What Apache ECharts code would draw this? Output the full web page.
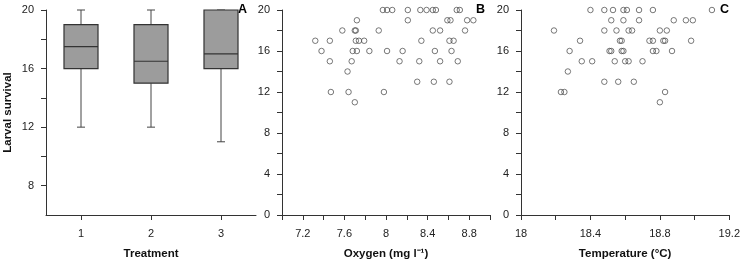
<!DOCTYPE html>
<html>
<head>
<meta charset="utf-8">
<script src="https://cdn.jsdelivr.net/npm/echarts@6/dist/echarts.min.js"></script>
<style>
  html, body { margin: 0; padding: 0; background: #fff; }
  #chart { width: 743px; height: 265px; }
</style>
</head>
<body>
<div id="chart"></div>
<script>
// panel A: box plots per treatment
const treatments = ['1', '2', '3'];
const boxMin = [12, 12, 11];
const boxQ1 = [16, 15, 16];
const boxMedian = [17.5, 16.5, 17];
const boxQ3 = [19, 19, 20];
const boxMax = [20, 20, 20];

// panel B: survival vs oxygen
const oxygen = [
  7.97, 8.01, 8.06, 8.21, 8.33, 8.39, 8.45, 8.48, 8.68, 8.71,
  7.72, 8.21, 8.59, 8.62, 8.78, 8.84,
  7.58, 7.70, 7.71, 7.93, 8.45, 8.52, 8.76,
  7.32, 7.46, 7.71, 7.74, 7.79, 8.34, 8.61, 8.65,
  7.38, 7.68, 7.72, 7.84, 8.01, 8.16, 8.47, 8.63,
  7.46, 7.67, 8.13, 8.32, 8.52, 8.69,
  7.63,
  8.30, 8.46, 8.61,
  7.47, 7.64, 7.98,
  7.70
];
const oxygenSurvival = [
  20, 20, 20, 20, 20, 20, 20, 20, 20, 20,
  19, 19, 19, 19, 19, 19,
  18, 18, 18, 18, 18, 18, 18,
  17, 17, 17, 17, 17, 17, 17, 17,
  16, 16, 16, 16, 16, 16, 16, 16,
  15, 15, 15, 15, 15, 15,
  14,
  13, 13, 13,
  12, 12, 12,
  11
];

// panel C: survival vs temperature
const temperature = [
  18.40, 18.48, 18.53, 18.59, 18.61, 18.68, 18.76, 19.10,
  18.52, 18.59, 18.68, 18.88, 18.95, 18.99,
  18.19, 18.48, 18.55, 18.62, 18.64, 18.80, 18.84,
  18.34, 18.57, 18.58, 18.74, 18.76, 18.82, 18.83, 18.98,
  18.28, 18.51, 18.52, 18.58, 18.59, 18.76, 18.78, 18.87,
  18.35, 18.41, 18.54, 18.60, 18.62, 18.70,
  18.27,
  18.48, 18.56, 18.65,
  18.23, 18.25, 18.83,
  18.80
];
const temperatureSurvival = [
  20, 20, 20, 20, 20, 20, 20, 20,
  19, 19, 19, 19, 19, 19,
  18, 18, 18, 18, 18, 18, 18,
  17, 17, 17, 17, 17, 17, 17, 17,
  16, 16, 16, 16, 16, 16, 16, 16,
  15, 15, 15, 15, 15, 15,
  14,
  13, 13, 13,
  12, 12, 12,
  11
];

// tick positions and labels
const survivalTicksA = [8, 10, 12, 14, 16, 18, 20];
const survivalLabelsA = [8, 12, 16, 20];
const survivalTicks = [0, 2, 4, 6, 8, 10, 12, 14, 16, 18, 20];
const survivalLabels = [0, 4, 8, 12, 16, 20];
const oxygenTicks = [7.0, 7.2, 7.4, 7.6, 7.8, 8.0, 8.2, 8.4, 8.6, 8.8, 9.0];
const oxygenLabels = [7.2, 7.6, 8.0, 8.4, 8.8];
const temperatureTicks = [18.0, 18.2, 18.4, 18.6, 18.8, 19.0, 19.2];
const temperatureLabels = [18.0, 18.4, 18.8, 19.2];

const FONT = '"Liberation Sans", Arial, sans-serif';
const AXIS_COLOR = '#333';

const axisLine = { show: true, onZero: false, lineStyle: { color: AXIS_COLOR, width: 1 } };
const labelStyle = { color: '#222', fontSize: 11, fontFamily: FONT };
const nameStyle = { color: '#111', fontSize: 11.5, fontWeight: 'bold', fontFamily: FONT };

function valueAxis(grid, min, max, ticks, labels, margin, extra) {
  return Object.assign({
    type: 'value',
    gridIndex: grid,
    min: min,
    max: max,
    axisLine: axisLine,
    axisTick: { show: true, length: 5, customValues: ticks, lineStyle: { color: AXIS_COLOR } },
    axisLabel: Object.assign({ customValues: labels, margin: margin }, labelStyle),
    splitLine: { show: false }
  }, extra || {});
}

const boxData = treatments.map((t, i) => [i, boxMin[i], boxQ1[i], boxMedian[i], boxQ3[i], boxMax[i]]);

function renderBox(params, api) {
  const i = api.value(0);
  const pMin = api.coord([i, api.value(1)]);
  const pQ1 = api.coord([i, api.value(2)]);
  const pMed = api.coord([i, api.value(3)]);
  const pQ3 = api.coord([i, api.value(4)]);
  const pMax = api.coord([i, api.value(5)]);
  const half = api.size([1, 0])[0] * 0.243;
  const cap = 4;
  const x = pMed[0];
  const line = { stroke: '#444', lineWidth: 1 };
  return {
    type: 'group',
    children: [
      { type: 'line', shape: { x1: x, y1: pMin[1], x2: x, y2: pQ1[1] }, style: line },
      { type: 'line', shape: { x1: x, y1: pQ3[1], x2: x, y2: pMax[1] }, style: line },
      { type: 'line', shape: { x1: x - cap, y1: pMin[1], x2: x + cap, y2: pMin[1] }, style: line },
      { type: 'line', shape: { x1: x - cap, y1: pMax[1], x2: x + cap, y2: pMax[1] }, style: line },
      {
        type: 'rect',
        shape: { x: x - half, y: pQ3[1], width: half * 2, height: pQ1[1] - pQ3[1] },
        style: { fill: '#9c9c9c', stroke: '#333', lineWidth: 1.2 }
      },
      { type: 'line', shape: { x1: x - half, y1: pMed[1], x2: x + half, y2: pMed[1] }, style: { stroke: '#333', lineWidth: 1.2 } }
    ]
  };
}

const scatterStyle = {
  color: 'rgba(0,0,0,0)',
  borderColor: '#444',
  borderWidth: 0.9
};

const chart = echarts.init(document.getElementById('chart'), null, { renderer: 'canvas' });

chart.setOption({
  animation: false,
  backgroundColor: '#fff',
  textStyle: { fontFamily: FONT },
  grid: [
    { left: 46, top: 10, width: 210, height: 209 },
    { left: 282, top: 10, width: 208, height: 209 },
    { left: 521, top: 10, width: 209, height: 209 }
  ],
  xAxis: [
    {
      type: 'category',
      gridIndex: 0,
      data: treatments,
      boundaryGap: true,
      axisLine: axisLine,
      axisTick: { show: true, length: 5, alignWithLabel: true, lineStyle: { color: AXIS_COLOR } },
      axisLabel: Object.assign({ margin: 13 }, labelStyle),
      name: 'Treatment',
      nameLocation: 'middle',
      nameGap: 33,
      nameTextStyle: nameStyle
    },
    valueAxis(1, 7.0, 9.0, oxygenTicks, oxygenLabels, 13, {
      name: 'Oxygen (mg l\u207B\u00B9)',
      nameLocation: 'middle',
      nameGap: 33,
      nameTextStyle: nameStyle
    }),
    valueAxis(2, 18.0, 19.2, temperatureTicks, temperatureLabels, 13, {
      name: 'Temperature (\u00B0C)',
      nameLocation: 'middle',
      nameGap: 33,
      nameTextStyle: nameStyle
    })
  ],
  yAxis: [
    valueAxis(0, 6, 20, survivalTicksA, survivalLabelsA, 12, {
      name: 'Larval survival',
      nameLocation: 'middle',
      nameGap: 32,
      nameTextStyle: nameStyle
    }),
    valueAxis(1, 0, 20, survivalTicks, survivalLabels, 12),
    valueAxis(2, 0, 20, survivalTicks, survivalLabels, 12)
  ],
  series: [
    {
      type: 'custom',
      xAxisIndex: 0,
      yAxisIndex: 0,
      renderItem: renderBox,
      encode: { x: 0, y: [1, 2, 3, 4, 5] },
      data: boxData
    },
    {
      type: 'scatter',
      xAxisIndex: 1,
      yAxisIndex: 1,
      symbol: 'circle',
      symbolSize: 5.5,
      itemStyle: scatterStyle,
      data: oxygen.map((v, i) => [v, oxygenSurvival[i]])
    },
    {
      type: 'scatter',
      xAxisIndex: 2,
      yAxisIndex: 2,
      symbol: 'circle',
      symbolSize: 5.5,
      itemStyle: scatterStyle,
      data: temperature.map((v, i) => [v, temperatureSurvival[i]])
    }
  ],
  graphic: [
    { type: 'text', x: 238, y: 9.5, style: { text: 'A', font: 'bold 12.5px ' + FONT, fill: '#000', verticalAlign: 'middle' } },
    { type: 'text', x: 476, y: 9.5, style: { text: 'B', font: 'bold 12.5px ' + FONT, fill: '#000', verticalAlign: 'middle' } },
    { type: 'text', x: 720, y: 9.5, style: { text: 'C', font: 'bold 12.5px ' + FONT, fill: '#000', verticalAlign: 'middle' } }
  ]
});
</script>
</body>
</html>
